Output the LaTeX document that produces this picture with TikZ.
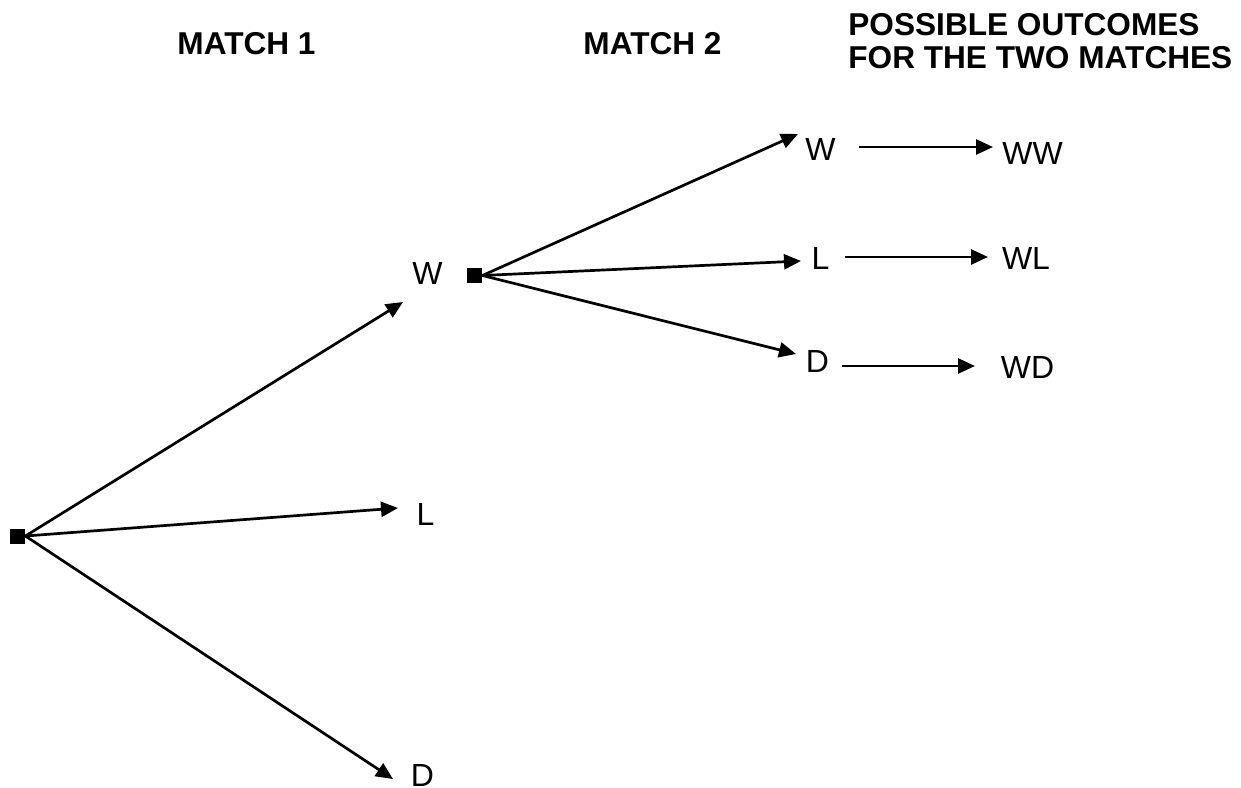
\documentclass[tikz,border=0pt]{standalone}
\usepackage{fontspec}
\setmainfont{Liberation Sans}
\usetikzlibrary{arrows.meta}
\begin{document}
\begin{tikzpicture}[x=0.5pt,y=-0.5pt,
  lbl/.style={inner sep=0pt, font=\fontsize{16}{19}\selectfont},
  head/.style={inner sep=0pt, font=\fontsize{15.8}{16.5}\selectfont\bfseries},
  knot/.style={fill=black, inner sep=0pt, minimum size=7.5pt},
  branch/.style={line width=1.35pt, -{Triangle[length=8.5pt,width=7.5pt]}}]
\useasboundingbox (0,0) rectangle (1241,787);

% column headings
\node[head] (m1) at (246.5,44) {MATCH 1};
\node[head] (m2) at (652.5,44) {MATCH 2};
\node[head, align=left, anchor=north west] (po) at (848,13) {POSSIBLE OUTCOMES\\FOR THE TWO MATCHES};

% branching points
\node[knot] (root) at (17.5,536) {};
\node[knot] (mid) at (474.5,275.5) {};

% first match results
\node[lbl] (w1) at (427.5,273) {W};
\node[lbl] (l1) at (425.5,514) {L};
\node[lbl] (d1) at (422.5,775) {D};

% second match results
\node[lbl] (w2) at (820.5,149) {W};
\node[lbl] (l2) at (820.5,258.5) {L};
\node[lbl] (d2) at (817.5,361.5) {D};

% combined outcomes
\node[lbl] (ww) at (1032.5,153) {WW};
\node[lbl] (wl) at (1026,258) {WL};
\node[lbl] (wd) at (1027.5,367.5) {WD};

% arrow end points
\coordinate (tw1) at (403,302);
\coordinate (tl1) at (398,508);
\coordinate (td1) at (393,779);
\coordinate (tw2) at (798,134);
\coordinate (tl2) at (801,261);
\coordinate (td2) at (796,354);
\coordinate (sww) at (859,147);
\coordinate (eww) at (993,147);
\coordinate (swl) at (845,257);
\coordinate (ewl) at (988,257);
\coordinate (swd) at (842,366);
\coordinate (ewd) at (975,366);

% tree branches
\draw[branch] (root.east) -- (tw1);
\draw[branch] (root.east) -- (tl1);
\draw[branch] (root.east) -- (td1);
\draw[branch] (mid.east) -- (tw2);
\draw[branch] (mid.east) -- (tl2);
\draw[branch] (mid.east) -- (td2);

% outcome arrows
\draw[branch] (sww) -- (eww);
\draw[branch] (swl) -- (ewl);
\draw[branch] (swd) -- (ewd);
\end{tikzpicture}
\end{document}
